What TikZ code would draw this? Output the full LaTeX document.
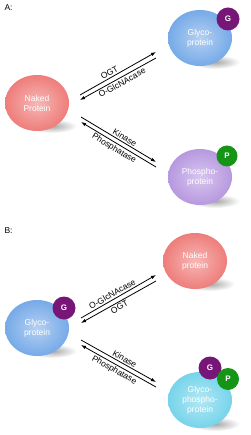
\documentclass[tikz,border=0pt]{standalone}
\usepackage{fontspec}
\setmainfont{Liberation Sans}
\usetikzlibrary{shapes.geometric,arrows.meta}
\definecolor{salmon}{RGB}{238,125,122}
\definecolor{glyblue}{RGB}{118,170,232}
\definecolor{lavender}{RGB}{183,152,224}
\definecolor{cyanball}{RGB}{118,212,234}
\definecolor{gpurple}{RGB}{118,22,118}
\definecolor{pgreen}{RGB}{22,148,22}
\tikzset{
  ball/.style={ellipse, minimum width=64pt, minimum height=56pt, inner sep=0pt,
    inner color=#1!55!white, outer color=#1, text=white, align=center,
    font=\fontsize{8.5}{10}\selectfont},
  shadowell/.style={ellipse, minimum width=50pt, minimum height=14pt, inner sep=0pt,
    inner color=black!35, outer color=white},
  badge/.style={circle, minimum size=#1, inner sep=0pt, text=white,
    font=\fontsize{8}{9}\selectfont\bfseries},
  rx/.style={-{Latex[length=5pt,width=3.5pt]}, line width=0.8pt},
  lbl/.style={font=\fontsize{8.5}{10}\selectfont, sloped, inner sep=1.5pt},
  panel/.style={font=\fontsize{8.5}{10}\selectfont, anchor=west}
}
\begin{document}
\begin{tikzpicture}[x=1pt,y=-1pt]
\useasboundingbox (0,0) rectangle (250,435);
% ---------------- Panel A
\node[panel] (la) at (1,8) {A:};
\node[shadowell] (sa1) at (52,126) {};
\node[shadowell] (sa2) at (215,62) {};
\node[shadowell] (sa3) at (215,201) {};
\node[ball=salmon] (nakedA) at (37,103) {Naked\\Protein};
\node[ball=glyblue] (glycoA) at (200,38) {Glyco-\\protein};
\node[ball=lavender] (phosA) at (200,177) {Phospho-\\protein};
\node[badge=23pt, fill=gpurple] (gA) at (228,19) {G};
\node[badge=21pt, fill=pgreen] (pA) at (227,156) {P};
\coordinate (a1s) at (80,95);  \coordinate (a1e) at (156,52);
\coordinate (a2s) at (156,58); \coordinate (a2e) at (80,100);
\coordinate (a3s) at (81,117); \coordinate (a3e) at (156,162);
\coordinate (a4s) at (156,167);\coordinate (a4e) at (81,122);
\draw[rx] (a1s) -- node[lbl, above, pos=0.42] {OGT} (a1e);
\draw[rx] (a2s) -- node[lbl, below, pos=0.48] {O-GlcNAcase} (a2e);
\draw[rx] (a3s) -- node[lbl, above, pos=0.55] {Kinase} (a3e);
\draw[rx] (a4s) -- node[lbl, below, pos=0.52] {Phosphatase} (a4e);
% ---------------- Panel B
\node[panel] (lb) at (1,231) {B:};
\node[shadowell] (sb1) at (210,284) {};
\node[shadowell] (sb2) at (52,351) {};
\node[shadowell] (sb3) at (215,424) {};
\node[ball=salmon] (nakedB) at (195,261) {Naked\\protein};
\node[ball=glyblue] (glycoB) at (37,328) {Glyco-\\protein};
\node[ball=cyanball] (gpB) at (200,400) {Glyco-\\phospho-\\protein};
\node[badge=23pt, fill=gpurple] (gB) at (64,308) {G};
\node[badge=23pt, fill=gpurple] (gB2) at (210,368) {G};
\node[badge=22pt, fill=pgreen] (pB) at (228,379) {P};
\coordinate (b1s) at (81,318); \coordinate (b1e) at (156,275);
\coordinate (b2s) at (156,281);\coordinate (b2e) at (81,323);
\coordinate (b3s) at (81,340); \coordinate (b3e) at (156,382);
\coordinate (b4s) at (156,387);\coordinate (b4e) at (81,345);
\draw[rx] (b1s) -- node[lbl, above, pos=0.45] {O-GlcNAcase} (b1e);
\draw[rx] (b2s) -- node[lbl, below, pos=0.52] {OGT} (b2e);
\draw[rx] (b3s) -- node[lbl, above, pos=0.55] {Kinase} (b3e);
\draw[rx] (b4s) -- node[lbl, below, pos=0.52] {Phosphatase} (b4e);
\end{tikzpicture}
\end{document}
